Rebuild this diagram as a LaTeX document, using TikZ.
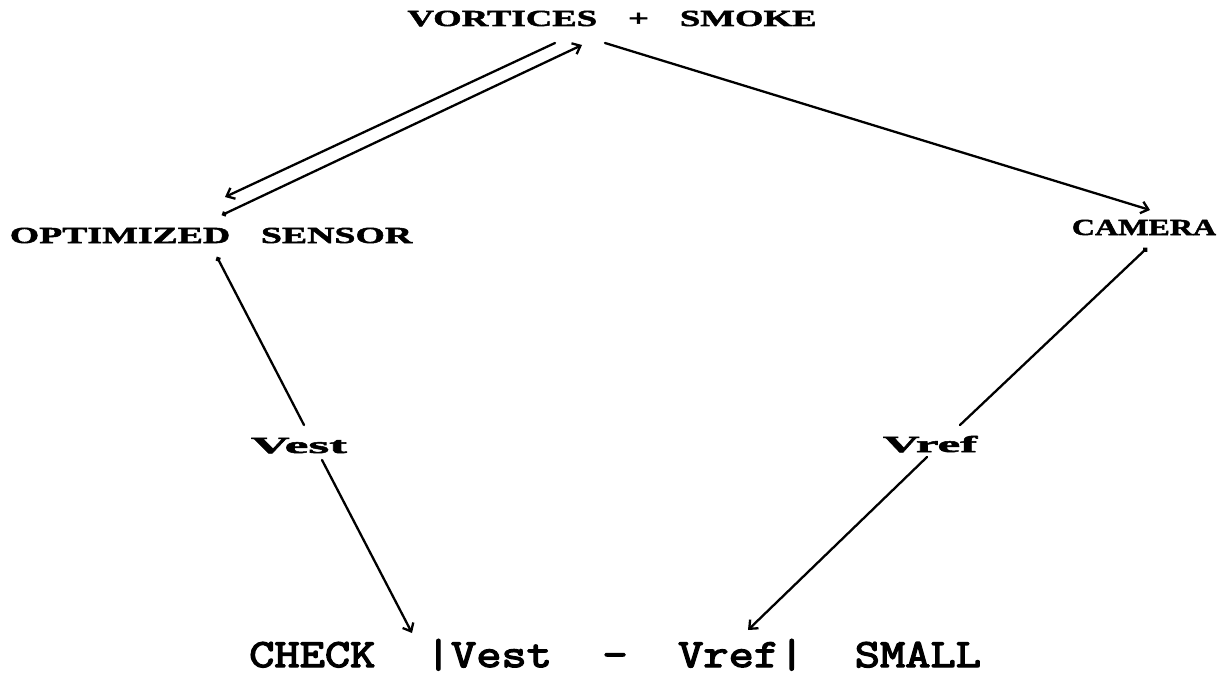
\documentclass[tikz,border=0pt]{standalone}
\usepackage{fontspec}
\usetikzlibrary{arrows.meta}
\newfontfamily\widefont[FakeStretch=1.55,FakeBold=2.2]{Liberation Serif Bold}
\newfontfamily\monofont[FakeStretch=1.225,FakeBold=3.5]{Latin Modern Mono}
\tikzset{
  lab/.style={inner sep=0pt, anchor=base, font=\widefont\fontsize{23}{23}\selectfont},
  conn/.style={line width=2.3pt, line cap=round},
  arr/.style={conn, -{Straight Barb[length=7pt,width=12pt,line width=2.3pt]}},
  dotarr/.style={conn, {Circle[length=5pt]}-{Straight Barb[length=7pt,width=12pt,line width=2.3pt]}},
  dotline/.style={conn, {Circle[length=5pt]}-}
}
\begin{document}
\begin{tikzpicture}[x=1pt,y=-1pt]
\useasboundingbox[fill=white] (0,0) rectangle (1230,674);
\node[lab] (vort) at (612,26) {\scalebox{1.03}[1]{VORTICES\hspace{30pt}+\hspace{30pt}SMOKE}};
\node[lab] (sens) at (211,243) {\scalebox{1.06}[1]{OPTIMIZED\hspace{29pt}SENSOR}};
\node[lab] (cam) at (1144,235) {\scalebox{0.9}[1]{CAMERA}};
\node[lab] (vest) at (299,453) {\scalebox{1.5}[1]{Vest}};
\node[lab] (vref) at (930,452) {\scalebox{1.43}[1]{Vref}};
\node[inner sep=0pt, anchor=base west, font=\monofont\fontsize{40}{40}\selectfont] (chk) at (249,667) {CHECK~~|Vest~~-~~Vref|~~SMALL};
% connectors
\draw[arr] ([shift={(-57,17)}]vort.base) -- ([shift={(14,-46)}]sens.base);
\draw[dotarr] ([shift={(11,-28)}]sens.base) -- ([shift={(-30,19)}]vort.base);
\draw[arr] ([shift={(-7,17)}]vort.base) -- ([shift={(6,-25)}]cam.base);
\draw[dotline] ([shift={(3,13)}]cam.base) -- ([shift={(30,-27)}]vref.base);
\draw[dotline] ([shift={(6,14)}]sens.base) -- ([shift={(5,-28)}]vest.base);
\draw[arr] ([shift={(23,7)}]vest.base) -- ([shift={(163,-34)}]chk.base west);
\draw[arr] ([shift={(-3,5)}]vref.base) -- ([shift={(499,-37)}]chk.base west);
\end{tikzpicture}
\end{document}
